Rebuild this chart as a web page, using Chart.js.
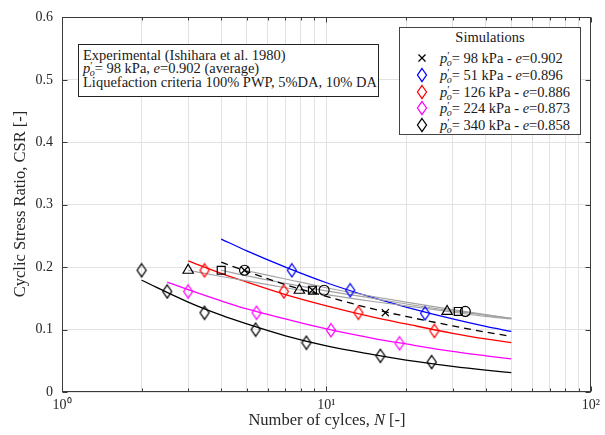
<!DOCTYPE html>
<html><head><meta charset="utf-8">
<script src="https://cdn.jsdelivr.net/npm/chart.js@4.4.0/dist/chart.umd.min.js"></script>
<style>
html,body{margin:0;padding:0;background:#fff;}
#wrap{position:relative;width:605px;height:435px;overflow:hidden;font-family:'Liberation Serif',serif;color:#1a1a1a;}
canvas{position:absolute;left:0;top:0;}
.box{position:absolute;background:#fff;box-sizing:border-box;z-index:2;}
#ann{left:78px;top:44px;width:301px;height:53px;border:1px solid #222;padding:4px 0 0 4px;font-size:14.5px;line-height:12.7px;white-space:nowrap;}
#leg{left:399px;top:27px;width:182px;height:108px;border:1px solid #444;font-size:14.5px;white-space:nowrap;}
#leg .lt{position:absolute;left:0;width:100%;top:1px;text-align:center;line-height:16px;}
#leg .row{position:absolute;left:0;height:16px;line-height:16px;width:100%;}
#leg .row svg{position:absolute;left:16px;top:0;}
#leg .row .t{position:absolute;left:40px;top:0;}
.pr{position:relative;top:-4px;font-size:11px;}
.so{position:relative;top:3px;font-size:10px;margin-left:-3px;}
.ttl{position:absolute;z-index:2;font-size:16.5px;white-space:nowrap;color:#262626;text-align:center;}
#xt{left:177px;width:300px;top:410px;line-height:20px;}
#yt{left:-130px;width:300px;top:194px;line-height:20px;transform:rotate(-90deg);}
</style></head><body>
<div id="wrap">
<canvas id="c" width="605" height="435"></canvas>
<div id="ann" class="box">Experimental (Ishihara et al. 1980)<br><i>p</i><span class="pr">′</span><i class="so">o</i>= 98 kPa, <i>e</i>=0.902 (average)<br>Liquefaction criteria 100% PWP, 5%DA, 10% DA</div>
<div id="leg" class="box">
 <div class="lt">Simulations</div>
 <div class="row" style="top:22px"><svg width="12" height="16"><path d="M2.5,4.5 L9.5,11.5 M9.5,4.5 L2.5,11.5" stroke="#000" stroke-width="1.3" fill="none"/></svg><span class="t"><i>p</i><span class="pr">′</span><i class="so">o</i>= 98 kPa - <i>e</i>=0.902</span></div>
 <div class="row" style="top:38.5px"><svg width="12" height="16"><path d="M6,1.5 L10.5,8 L6,14.5 L1.5,8 Z" stroke="#0000ff" stroke-width="1.3" fill="none"/></svg><span class="t"><i>p</i><span class="pr">′</span><i class="so">o</i>= 51 kPa - <i>e</i>=0.896</span></div>
 <div class="row" style="top:55.5px"><svg width="12" height="16"><path d="M6,1.5 L10.5,8 L6,14.5 L1.5,8 Z" stroke="#ff0000" stroke-width="1.3" fill="none"/></svg><span class="t"><i>p</i><span class="pr">′</span><i class="so">o</i>= 126 kPa - <i>e</i>=0.886</span></div>
 <div class="row" style="top:72px"><svg width="12" height="16"><path d="M6,1.5 L10.5,8 L6,14.5 L1.5,8 Z" stroke="#ff00ff" stroke-width="1.3" fill="none"/></svg><span class="t"><i>p</i><span class="pr">′</span><i class="so">o</i>= 224 kPa - <i>e</i>=0.873</span></div>
 <div class="row" style="top:89px"><svg width="12" height="16"><path d="M6,1.5 L10.5,8 L6,14.5 L1.5,8 Z" stroke="#000" stroke-width="1.3" fill="none"/></svg><span class="t"><i>p</i><span class="pr">′</span><i class="so">o</i>= 340 kPa - <i>e</i>=0.858</span></div>
</div>
<div id="xt" class="ttl">Number of cylces, <i>N</i> [-]</div>
<div id="yt" class="ttl">Cyclic Stress Ratio, CSR [-]</div>
</div>
<script>
// ---------------- DATA ----------------
// Experimental (Ishihara et al. 1980): three liquefaction criteria
const expTriN   = [3.0, 7.9, 28.6];
const expTriCSR = [0.195, 0.163, 0.129];
const expSqN    = [4.0, 8.85, 31.5];
const expSqCSR  = [0.195, 0.163, 0.129];
const expCirN   = [4.9, 9.8, 33.5];
const expCirCSR = [0.195, 0.163, 0.129];

// Simulations
const sim98N    = [4.9, 8.85, 16.7];
const sim98CSR  = [0.195, 0.163, 0.127];
const sim51N    = [7.4, 12.3, 23.6];
const sim51CSR  = [0.195, 0.163, 0.126];
const sim126N   = [3.46, 6.9, 13.2, 25.6];
const sim126CSR = [0.195, 0.161, 0.127, 0.098];
const sim224N   = [3.0, 5.44, 10.4, 18.9];
const sim224CSR = [0.161, 0.127, 0.099, 0.078];
const sim340N   = [2.0, 2.5, 3.46, 5.4, 8.4, 16, 25];
const sim340CSR = [0.195, 0.161, 0.127, 0.100, 0.079, 0.058, 0.048];

// Fitted curves
const fitTriN   = [3, 4, 5, 7, 10, 15, 20, 30, 40, 50];
const fitTriCSR = [0.195, 0.185, 0.178, 0.167, 0.156, 0.145, 0.138, 0.128, 0.121, 0.117];
const fitSqN    = [4, 5, 7, 10, 15, 20, 30, 40, 50];
const fitSqCSR  = [0.195, 0.186, 0.174, 0.162, 0.150, 0.141, 0.130, 0.123, 0.118];
const fitCirN   = [4.9, 7, 10, 15, 20, 30, 40, 50];
const fitCirCSR = [0.195, 0.181, 0.167, 0.153, 0.144, 0.132, 0.124, 0.118];
const fit98N    = [4, 5, 7, 10, 15, 20, 30, 40, 50];
const fit98CSR  = [0.208, 0.193, 0.172, 0.153, 0.133, 0.121, 0.106, 0.096, 0.089];
const fit51N    = [4, 5, 7, 10, 15, 20, 30, 40, 50];
const fit51CSR  = [0.245, 0.226, 0.200, 0.175, 0.151, 0.136, 0.117, 0.105, 0.097];
const fit126N   = [3, 4, 5, 7, 10, 15, 20, 30, 40, 50];
const fit126CSR = [0.210, 0.190, 0.176, 0.156, 0.138, 0.120, 0.109, 0.094, 0.085, 0.079];
const fit224N   = [2.5, 3, 4, 5, 7, 10, 15, 20, 30, 40, 50];
const fit224CSR = [0.176, 0.164, 0.146, 0.133, 0.117, 0.101, 0.086, 0.077, 0.065, 0.058, 0.053];
const fit340N   = [2, 3, 4, 5, 7, 10, 15, 20, 30, 40, 50];
const fit340CSR = [0.179, 0.144, 0.123, 0.109, 0.090, 0.074, 0.060, 0.051, 0.041, 0.035, 0.031];

// Ticks
const xTickValues = [1,2,3,4,5,6,7,8,9,10,20,30,40,50,60,70,80,90,100];
const xTickLabels = {1:'10\u2070', 10:'10\u00B9', 100:'10\u00B2'};
const yTickValues = [0, 0.1, 0.2, 0.3, 0.4, 0.5, 0.6];
const yTickLabels = ['0', '0.1', '0.2', '0.3', '0.4', '0.5', '0.6'];

// ---------------- BUILD ----------------
const zip = (xs, ys) => xs.map((x, i) => ({x: x, y: ys[i]}));
function diamond(color){
  const c = document.createElement('canvas'); c.width = 12; c.height = 16;
  const g = c.getContext('2d'); g.strokeStyle = color; g.lineWidth = 1.3;
  g.beginPath(); g.moveTo(6,1.5); g.lineTo(10.5,8); g.lineTo(6,14.5); g.lineTo(1.5,8); g.closePath(); g.stroke();
  return c;
}
const serif = "'Liberation Serif', serif";
function pts(label, xs, ys, style, color, radius){
  return {label, data: zip(xs, ys), showLine:false, pointStyle: style, pointRadius: radius||5,
    pointBorderColor: color, pointBackgroundColor:'rgba(0,0,0,0)', pointBorderWidth:1.2, borderColor: color};
}
function curve(label, xs, ys, color, width, dash){
  return {label, data: zip(xs, ys), showLine:true, pointRadius:0, borderColor: color, borderWidth: width,
    borderDash: dash || [], cubicInterpolationMode:'monotone', fill:false};
}
const datasets = [
  pts('sim 98 kPa', sim98N, sim98CSR, 'crossRot', '#000', 5),
  pts('sim 51 kPa', sim51N, sim51CSR, diamond('#0000ff'), '#0000ff'),
  pts('sim 126 kPa', sim126N, sim126CSR, diamond('#ff0000'), '#ff0000'),
  pts('sim 224 kPa', sim224N, sim224CSR, diamond('#ff00ff'), '#ff00ff'),
  pts('sim 340 kPa', sim340N, sim340CSR, diamond('#000000'), '#000'),
  pts('exp 100% PWP', expTriN, expTriCSR, 'triangle', '#000', 6),
  pts('exp 5% DA', expSqN, expSqCSR, 'rect', '#000', 5.6),
  pts('exp 10% DA', expCirN, expCirCSR, 'circle', '#000', 5),
  curve('fit 98', fit98N, fit98CSR, '#000', 1.3, [7,5]),
  curve('fit exp tri', fitTriN, fitTriCSR, '#a3a3a3', 1.2),
  curve('fit exp sq', fitSqN, fitSqCSR, '#a3a3a3', 1.2),
  curve('fit exp cir', fitCirN, fitCirCSR, '#a3a3a3', 1.2),
  curve('fit 51', fit51N, fit51CSR, '#0000ff', 1.3),
  curve('fit 126', fit126N, fit126CSR, '#ff0000', 1.3),
  curve('fit 224', fit224N, fit224CSR, '#ff00ff', 1.3),
  curve('fit 340', fit340N, fit340CSR, '#000', 1.3)
];

const boxPlugin = {
  id:'box',
  afterDraw(chart){
    const {ctx, chartArea:a, scales:{x, y}} = chart;
    ctx.save();
    ctx.strokeStyle = '#3a3a3a'; ctx.lineWidth = 1;
    const L = Math.round(a.left)+0.5, R = Math.round(a.right)-0.5, T = Math.round(a.top)+0.5, B = Math.round(a.bottom)-0.5;
    ctx.beginPath();
    yTickValues.forEach(v => {
      const py = Math.round(y.getPixelForValue(v)) + 0.5;
      ctx.moveTo(L, py); ctx.lineTo(L+5, py);
      ctx.moveTo(R, py); ctx.lineTo(R-5, py);
    });
    xTickValues.forEach(v => {
      const px = Math.round(x.getPixelForValue(v)) + 0.5;
      const len = (v===1||v===10||v===100) ? 5 : 3;
      ctx.moveTo(px, B); ctx.lineTo(px, B-len);
      ctx.moveTo(px, T); ctx.lineTo(px, T+len);
    });
    ctx.stroke();
    ctx.strokeRect(L, T, R-L, B-T);
    ctx.restore();
  }
};

new Chart(document.getElementById('c'), {
  type:'scatter',
  data:{datasets},
  options:{
    responsive:false, animation:false, devicePixelRatio:1,
    layout:{padding:{top:16, right:13, left:0, bottom:0}},
    plugins:{legend:{display:false}, tooltip:{enabled:false}},
    scales:{
      x:{type:'logarithmic', min:1, max:100,
        afterBuildTicks: s => { s.ticks = xTickValues.map(v => ({value:v})); },
        afterFit: s => { s.height = 43; },
        grid:{color:'#e2e2e2', drawTicks:false, lineWidth:1},
        border:{display:false},
        ticks:{autoSkip:false, maxRotation:0, minRotation:0, padding:5, color:'#262626',
          font:{family:serif, size:14}, callback: v => (xTickLabels[v] !== undefined ? xTickLabels[v] : '')}
      },
      y:{type:'linear', min:0, max:0.6,
        afterBuildTicks: s => { s.ticks = yTickValues.map(v => ({value:v})); },
        afterFit: s => { s.width = 62; },
        grid:{color:'#e2e2e2', drawTicks:false, lineWidth:1},
        border:{display:false},
        ticks:{padding:9, color:'#262626', font:{family:serif, size:14},
          callback: (v, i) => yTickLabels[i]}
      }
    }
  },
  plugins:[boxPlugin]
});
</script>
</body></html>
